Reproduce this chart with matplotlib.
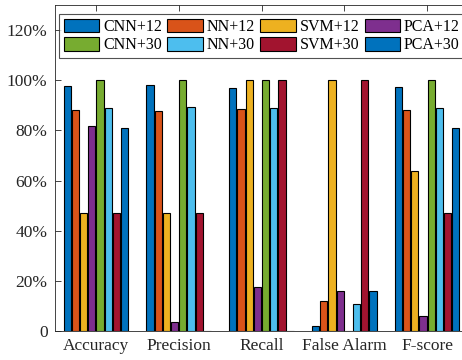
import numpy as np
import matplotlib.pyplot as plt

plt.rcParams['font.family'] = ['Liberation Serif', 'DejaVu Serif']

categories = ['Accuracy', 'Precision', 'Recall', 'False Alarm', 'F-score']
series = ['CNN+12', 'NN+12', 'SVM+12', 'PCA+12', 'CNN+30', 'NN+30', 'SVM+30', 'PCA+30']
colors = ['#0072BD', '#D95319', '#EDB120', '#7E2F8E', '#77AC30', '#4DBEEE', '#A2142F', '#0072BD']

# values in percent, one list per series (order of categories above)
cnn12 = [97.6, 97.9, 97.1, 1.9, 97.5]
nn12 = [88.0, 87.9, 88.4, 12.1, 88.0]
svm12 = [47.1, 47.1, 100.0, 100.0, 63.9]
pca12 = [81.7, 3.6, 17.7, 16.0, 5.9]
cnn30 = [100.0, 100.0, 100.0, 0.0, 100.0]
nn30 = [89.1, 89.3, 88.8, 10.7, 89.1]
svm30 = [47.1, 47.1, 100.0, 100.0, 47.1]
pca30 = [81.1, 0.0, 0.0, 16.0, 81.1]
values = [cnn12, nn12, svm12, pca12, cnn30, nn30, svm30, pca30]

yticks = [0, 20, 40, 60, 80, 100, 120]
ytick_labels = ['0', '20%', '40%', '60%', '80%', '100%', '120%']

fig = plt.figure(figsize=(4.62, 3.60), dpi=100)
# axes runs a bit past the right edge, like the cropped original
ax = fig.add_axes([54.5 / 462, 1 - 331 / 360, 414 / 462, 326 / 360])

x = np.arange(1, len(categories) + 1)
pitch = 0.099
width = 0.086
handles = []
for i, (name, vals) in enumerate(zip(series, values)):
    offs = (i - (len(series) - 1) / 2) * pitch
    b = ax.bar(x + offs, vals, width, color=colors[i], edgecolor='black',
               linewidth=0.8, label=name, zorder=3)
    handles.append(b)

ax.set_xlim(0.5, 5.5)
ax.set_ylim(0, 130)
ax.set_xticks(x)
ax.set_xticklabels(categories, fontsize=12.5, color='#262626')
ax.set_yticks(yticks)
ax.set_yticklabels(ytick_labels, fontsize=12.5, color='#262626')
ax.tick_params(direction='in', length=4, width=0.6, color='#262626',
               top=True, right=True, pad=5)
for s in ax.spines.values():
    s.set_color('#262626')
    s.set_linewidth(0.6)

# matplotlib fills legend columns first, so reorder to get rows of 12 / 30
order = [0, 4, 1, 5, 2, 6, 3, 7]
leg = ax.legend([handles[k] for k in order], [series[k] for k in order],
                ncol=4, loc='upper left', bbox_to_anchor=(59 / 462, 1 - 14 / 360),
                bbox_transform=fig.transFigure, borderaxespad=0, fontsize=11.5,
                frameon=True, fancybox=False, edgecolor='#262626',
                handlelength=2.2, handleheight=0.9, handletextpad=0.25,
                columnspacing=0.35, labelspacing=0.15, borderpad=0.3)
leg.get_frame().set_linewidth(0.8)

fig.savefig('out.png', dpi=100)
